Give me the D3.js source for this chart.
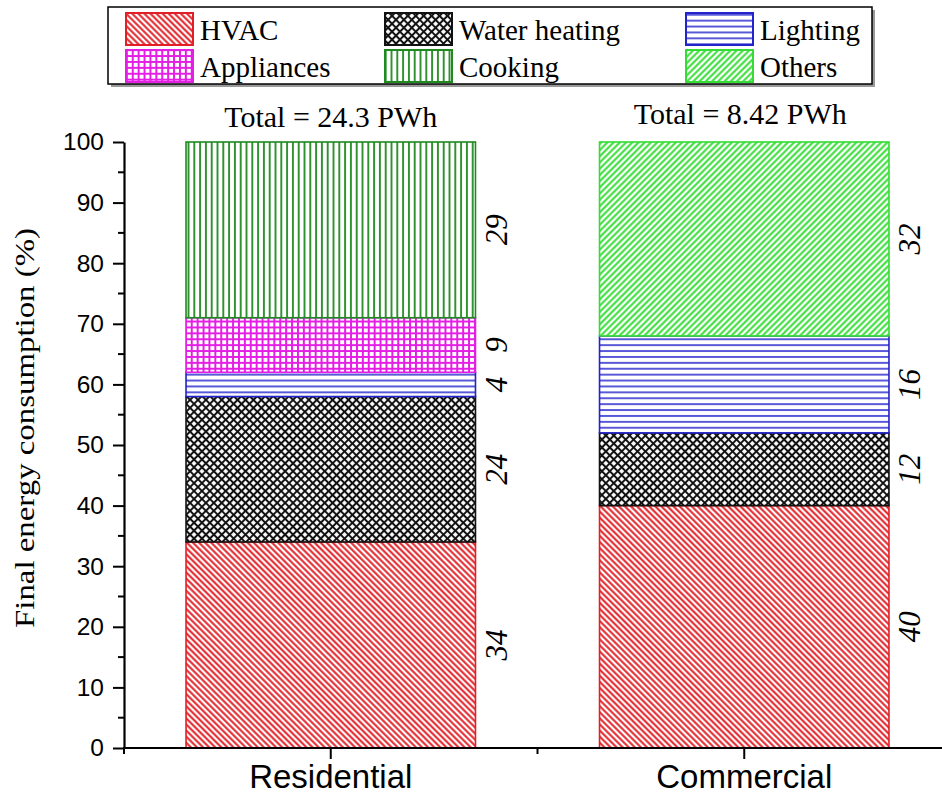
<!DOCTYPE html>
<html>
<head>
<meta charset="utf-8">
<script src="https://cdn.jsdelivr.net/npm/d3@7"></script>
<style>
  html, body { margin: 0; padding: 0; background: #fff; }
  svg { display: block; }
</style>
</head>
<body>
<svg id="chart" width="942" height="800"></svg>
<script>
// ---- data ----
const categories = ["Residential", "Commercial"];
const seriesNames = ["HVAC", "Water heating", "Lighting", "Appliances", "Cooking", "Others"];
const residentialValues = [34, 24, 4, 9, 29, 0];
const commercialValues = [40, 12, 16, 0, 0, 32];
const totalLabels = ["Total = 24.3 PWh", "Total = 8.42 PWh"];
const yTickValues = [0, 10, 20, 30, 40, 50, 60, 70, 80, 90, 100];
const yMinorTickValues = [5, 15, 25, 35, 45, 55, 65, 75, 85, 95];
const yAxisTitle = "Final energy consumption (%)";

// ---- styles ----
const colors = {
  "HVAC": "#e21f26",
  "Water heating": "#111111",
  "Lighting": "#2323cc",
  "Appliances": "#e41ee4",
  "Cooking": "#1f8a1f",
  "Others": "#33dd33"
};
const patternIds = {
  "HVAC": "pat-hvac",
  "Water heating": "pat-water",
  "Lighting": "pat-light",
  "Appliances": "pat-app",
  "Cooking": "pat-cook",
  "Others": "pat-oth"
};

const table = categories.map((c, i) => {
  const vals = i === 0 ? residentialValues : commercialValues;
  const row = { category: c };
  seriesNames.forEach((s, j) => row[s] = vals[j]);
  return row;
});

const svg = d3.select("#chart");
const defs = svg.append("defs");

function linePattern(id, color, size, angle, width, dirs) {
  const p = defs.append("pattern")
    .attr("id", id)
    .attr("patternUnits", "userSpaceOnUse")
    .attr("width", size).attr("height", size);
  if (angle) p.attr("patternTransform", `rotate(${angle})`);
  p.append("rect").attr("width", size).attr("height", size).attr("fill", "#fff");
  if (dirs.includes("v")) {
    p.append("line").attr("x1", size / 2).attr("x2", size / 2).attr("y1", 0).attr("y2", size)
      .attr("stroke", color).attr("stroke-width", width);
  }
  if (dirs.includes("h")) {
    p.append("line").attr("y1", size / 2).attr("y2", size / 2).attr("x1", 0).attr("x2", size)
      .attr("stroke", color).attr("stroke-width", width);
  }
}
linePattern(patternIds["HVAC"], colors["HVAC"], 4.3, -45, 2.0, "v");
linePattern(patternIds["Water heating"], colors["Water heating"], 5.6, 45, 2.0, "vh");
linePattern(patternIds["Lighting"], colors["Lighting"], 5.9, 0, 1.5, "h");
linePattern(patternIds["Appliances"], colors["Appliances"], 5.9, 0, 2.0, "vh");
linePattern(patternIds["Cooking"], colors["Cooking"], 5.8, 0, 1.8, "v");
linePattern(patternIds["Others"], colors["Others"], 4.4, 45, 2.0, "v");

// ---- scales ----
const x = d3.scaleBand().domain(categories).range([124, 951]).paddingInner(0.3).paddingOuter(0.15);
const y = d3.scaleLinear().domain([0, 100]).range([748, 142]);

const stack = d3.stack().keys(seriesNames);
const stacked = stack(table);

// ---- bars ----
const gBars = svg.append("g");
stacked.forEach(layer => {
  const s = layer.key;
  layer.forEach((d, i) => {
    if (d[1] - d[0] <= 0) return;
    gBars.append("rect")
      .attr("x", x(categories[i]))
      .attr("width", x.bandwidth())
      .attr("y", y(d[1]))
      .attr("height", y(d[0]) - y(d[1]))
      .attr("fill", `url(#${patternIds[s]})`)
      .attr("stroke", colors[s])
      .attr("stroke-width", 1.6);
  });
});

// value labels
stacked.forEach(layer => {
  layer.forEach((d, i) => {
    const v = d[1] - d[0];
    if (v <= 0) return;
    const cx = x(categories[i]) + x.bandwidth() + 21;
    const cy = y((d[0] + d[1]) / 2);
    svg.append("text")
      .attr("transform", `translate(${cx},${cy}) rotate(-90)`)
      .attr("text-anchor", "middle")
      .attr("dominant-baseline", "central")
      .attr("font-family", "'Liberation Serif','Times New Roman',serif")
      .attr("font-style", "italic")
      .attr("font-size", 31)
      .attr("fill", "#000")
      .text(v);
  });
});

// totals
categories.forEach((c, i) => {
  svg.append("text")
    .attr("x", x(c) + x.bandwidth() / 2 - (i === 1 ? 4 : 0))
    .attr("y", i === 0 ? 127 : 124)
    .attr("text-anchor", "middle")
    .attr("font-family", "'Liberation Serif','Times New Roman',serif")
    .attr("font-size", 30)
    .attr("fill", "#000")
    .text(totalLabels[i]);
});

// ---- y axis ----
const yAxis = d3.axisLeft(y).tickValues(yTickValues).tickSize(11).tickPadding(9).tickSizeOuter(0);
const gy = svg.append("g").attr("transform", "translate(124,0)").call(yAxis);
gy.select(".domain").attr("stroke", "#000").attr("stroke-width", 2.2);
gy.selectAll(".tick line").attr("stroke", "#000").attr("stroke-width", 2);
gy.selectAll(".tick text")
  .attr("font-family", "Arial, 'Liberation Sans', sans-serif")
  .attr("font-size", 24.5).attr("fill", "#000");
gy.selectAll(".minor").data(yMinorTickValues).enter().append("line")
  .attr("class", "minor")
  .attr("x1", 0).attr("x2", -6)
  .attr("y1", d => y(d)).attr("y2", d => y(d))
  .attr("stroke", "#000").attr("stroke-width", 2);

// y title
svg.append("text")
  .attr("transform", `translate(34,${428}) rotate(-90)`)
  .attr("text-anchor", "middle")
  .attr("font-family", "'Liberation Serif','Times New Roman',serif")
  .attr("font-size", 28)
  .attr("textLength", 400)
  .attr("lengthAdjust", "spacingAndGlyphs")
  .attr("fill", "#000")
  .text(yAxisTitle);

// ---- x axis ----
const gx = svg.append("g").attr("transform", "translate(0,748)");
gx.append("line").attr("x1", 123).attr("x2", 942).attr("y1", 0).attr("y2", 0)
  .attr("stroke", "#000").attr("stroke-width", 2.2);
const xAxis = d3.axisBottom(x).tickSize(11).tickPadding(6).tickSizeOuter(0);
const gxa = gx.append("g").call(xAxis);
gxa.select(".domain").remove();
gxa.selectAll(".tick line").attr("stroke", "#000").attr("stroke-width", 2);
gxa.selectAll(".tick text")
  .attr("font-family", "Arial, 'Liberation Sans', sans-serif")
  .attr("font-size", 33).attr("fill", "#000")
  .attr("dy", "0.71em");
// minor x ticks between categories
const xMinor = [x.range()[0], (x("Residential") + x.bandwidth() / 2 + x("Commercial") + x.bandwidth() / 2) / 2];
gx.selectAll(".xminor").data(xMinor).enter().append("line")
  .attr("x1", d => d).attr("x2", d => d).attr("y1", 0).attr("y2", 6)
  .attr("stroke", "#000").attr("stroke-width", 2);

// ---- legend ----
const legend = svg.append("g");
legend.append("rect").attr("x", 111).attr("y", 10).attr("width", 764).attr("height", 77)
  .attr("fill", "#999");
legend.append("rect").attr("x", 108).attr("y", 7).attr("width", 764).attr("height", 77)
  .attr("fill", "#fff").attr("stroke", "#000").attr("stroke-width", 1.5);
const colX = [126, 385, 686];
const rowY = [13, 50];
seriesNames.forEach((s, i) => {
  const cx = colX[i % 3];
  const ry = rowY[Math.floor(i / 3)];
  legend.append("rect")
    .attr("x", cx).attr("y", ry).attr("width", 67).attr("height", 32)
    .attr("fill", `url(#${patternIds[s]})`)
    .attr("stroke", colors[s]).attr("stroke-width", 2);
  legend.append("text")
    .attr("x", cx + 74).attr("y", ry + 27)
    .attr("font-family", "'Liberation Serif','Times New Roman',serif")
    .attr("font-size", 29).attr("fill", "#000")
    .text(s);
});
</script>
</body>
</html>
